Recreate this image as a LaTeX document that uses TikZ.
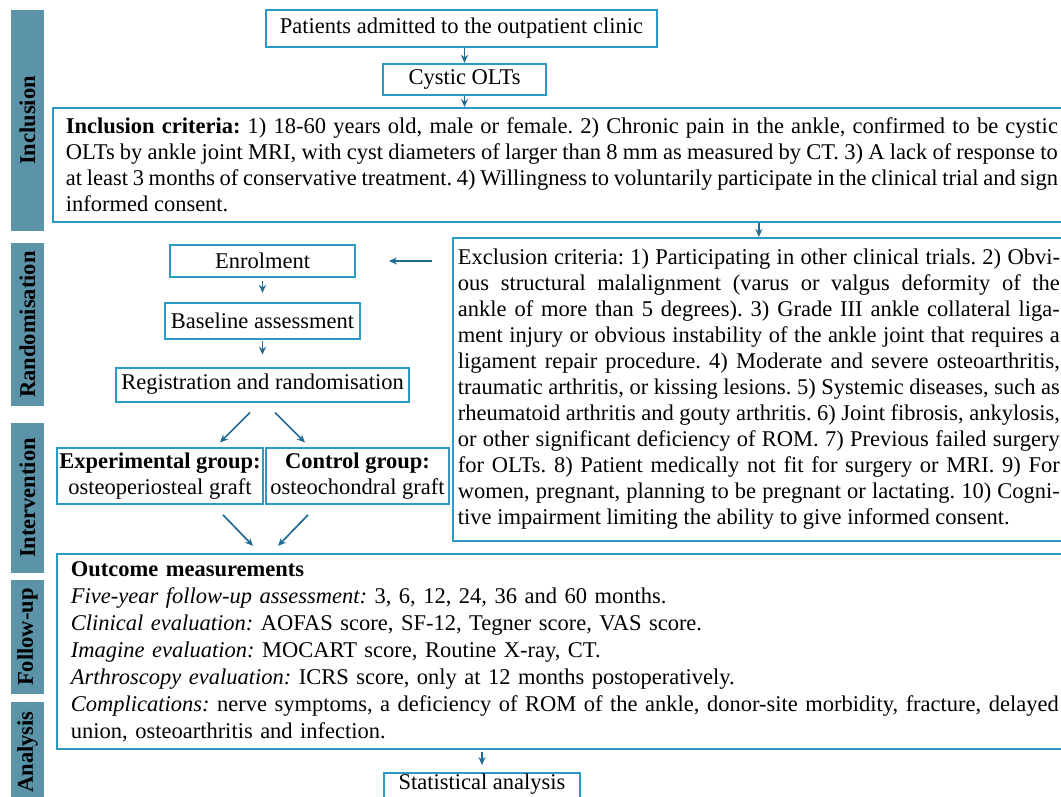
\documentclass[tikz,border=0pt]{standalone}
\usepackage{fontspec}
\setmainfont{Liberation Serif}
\usepackage{xcolor}
\usetikzlibrary{arrows.meta,positioning,calc}

\definecolor{boxblue}{HTML}{2C9AC6}
\definecolor{arrowblue}{HTML}{1F6B93}
\definecolor{sidegray}{HTML}{5B93A9}
\newcommand{\bodyfont}{\fontsize{22.5}{26}\selectfont\frenchspacing}

\begin{document}
\begin{tikzpicture}[
  x=1pt, y=-1pt,
  side/.style={fill=sidegray, rotate=90, minimum height=33pt, inner sep=0pt, font=\bodyfont\bfseries},
  block/.style={draw=boxblue, line width=1.8pt, fill=white, inner sep=0pt, font=\bodyfont, align=center},
  textbox/.style={draw=boxblue, line width=1.8pt, anchor=north west, inner ysep=0pt, font=\bodyfont},
  arrow/.style={-{Stealth[length=8pt,width=7pt]}, line width=1.7pt, draw=arrowblue},
]
\useasboundingbox (0,0) rectangle (1061,797);
\clip (0,0) rectangle (1061,797);

% Stage bars (left)
\node[side, minimum width=221pt] (sinc) at (27.5,120.5) {Inclusion};
\node[side, minimum width=163pt] (srand) at (27.5,324.5) {Randomisation};
\node[side, minimum width=150pt] (sint) at (27.5,498) {Intervention};
\node[side, minimum width=114pt] (sfol) at (27.5,637) {Follow-up};
\node[side, minimum width=100pt] (sana) at (27.5,752) {Analysis};

% Inclusion
\node[block, minimum width=391pt, minimum height=37pt] (patients) at (461.5,28.5) {Patients admitted to the outpatient clinic};
\node[block, minimum width=163pt, minimum height=31pt, below=15pt of patients, xshift=3pt] (cystic) {Cystic OLTs};

\node[textbox, text width=992pt, inner xsep=13pt, minimum height=114pt, align=justify] (incl) at (52,107) {
  \textbf{Inclusion criteria:} 1) 18-60 years old, male or female. 2) Chronic pain in the ankle, confirmed to be cystic\linebreak
  OLTs by ankle joint MRI, with cyst diameters of larger than 8 mm as measured by CT. 3) A lack of response to\linebreak
  at least 3 months of conservative treatment. 4) Willingness to voluntarily participate in the clinical trial and sign\linebreak
  informed consent.
};

% Exclusion criteria (right)
\node[textbox, text width=602pt, inner xsep=5pt, minimum height=303pt, align=justify] (excl) at (452,237) {
  Exclusion criteria: 1) Participating in other clinical trials. 2) Obvi-\linebreak
  ous structural malalignment (varus or valgus deformity of the\linebreak
  ankle of more than 5 degrees). 3) Grade III ankle collateral liga-\linebreak
  ment injury or obvious instability of the ankle joint that requires a\linebreak
  ligament repair procedure. 4) Moderate and severe osteoarthritis,\linebreak
  traumatic arthritis, or kissing lesions. 5) Systemic diseases, such as\linebreak
  rheumatoid arthritis and gouty arthritis. 6) Joint fibrosis, ankylosis,\linebreak
  or other significant deficiency of ROM. 7) Previous failed surgery\linebreak
  for OLTs. 8) Patient medically not fit for surgery or MRI. 9) For\linebreak
  women, pregnant, planning to be pregnant or lactating. 10) Cogni-\linebreak
  tive impairment limiting the ability to give informed consent.
};

% Randomisation
\node[block, minimum width=185pt, minimum height=32pt] (enrol) at (262.5,261) {Enrolment};
\node[block, minimum width=195pt, minimum height=36pt, below=24pt of enrol] (base) {Baseline assessment};
\node[block, minimum width=293pt, minimum height=34pt, below=27pt of base] (reg) {Registration and randomisation};

% Intervention
\node[block, minimum width=206pt, minimum height=56pt] (expg) at (160,476) {\textbf{Experimental group:}\\osteoperiosteal graft};
\node[block, minimum width=183pt, minimum height=56pt] (ctlg) at (357.5,476) {\textbf{Control group:}\\osteochondral graft};

% Follow-up
\node[textbox, text width=995pt, inner xsep=14pt, minimum height=195pt, align=left, font=\fontsize{22.5}{27}\selectfont\frenchspacing] (outc) at (56,553) {
  \textbf{Outcome measurements}\\
  {\itshape Five-year follow-up assessment:} 3, 6, 12, 24, 36 and 60 months.\\
  {\itshape Clinical evaluation:} AOFAS score, SF-12, Tegner score, VAS score.\\
  {\itshape Imagine evaluation:} MOCART score, Routine X-ray, CT.\\
  {\itshape Arthroscopy evaluation:} ICRS score, only at 12 months postoperatively.\\
  {\itshape Complications:} nerve symptoms, a deficiency of ROM of the ankle, donor-site morbidity, fracture, delayed\\
  union, osteoarthritis and infection.
};

% Analysis
\node[block, minimum width=196pt, inner ysep=1pt, text depth=12pt, anchor=north] (stat) at (482,772) {Statistical analysis};

% Free arrow ends
\coordinate (xr) at ([xshift=-20pt]excl.west |- enrol.east);
\coordinate (xe) at ([xshift=33pt]enrol.east);
\coordinate (r1) at ([shift={(-12.5pt,-10pt)}]reg.south);
\coordinate (r1e) at ([shift={(-42.5pt,-40pt)}]reg.south);
\coordinate (r2) at ([shift={(12.5pt,-10pt)}]reg.south);
\coordinate (r2e) at ([shift={(42.5pt,-40pt)}]reg.south);
\coordinate (g1) at ([shift={(63pt,-10pt)}]expg.south);
\coordinate (g1e) at ([shift={(93pt,-41pt)}]expg.south);
\coordinate (g2) at ([shift={(-49.5pt,-10pt)}]ctlg.south);
\coordinate (g2e) at ([shift={(-79.5pt,-41pt)}]ctlg.south);

% Arrows
\draw[arrow] (cystic.north |- patients.south) -- (cystic.north);
\draw[arrow] (cystic.south) -- (cystic.south |- incl.north);
\draw[arrow] (excl.north |- incl.south) -- (excl.north);
\draw[arrow] (xr) -- (xe);
\draw[arrow, shorten <=3pt, shorten >=9pt] (enrol.south) -- (base.north);
\draw[arrow, shorten <=1pt, shorten >=12pt] (base.south) -- (reg.north);
\draw[arrow] (r1) -- (r1e);
\draw[arrow] (r2) -- (r2e);
\draw[arrow] (g1) -- (g1e);
\draw[arrow] (g2) -- (g2e);
\draw[arrow, shorten <=2pt, shorten >=7pt] (outc.south -| stat.north) -- (stat.north);

\end{tikzpicture}
\end{document}
